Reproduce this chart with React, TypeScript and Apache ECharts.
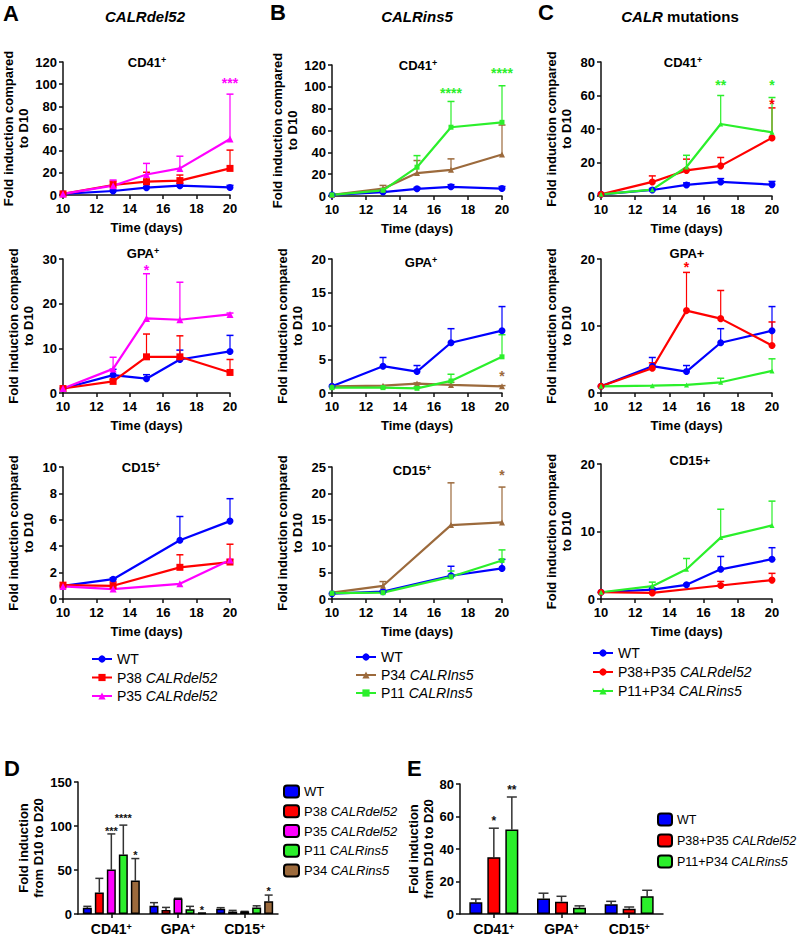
import React, { useEffect, useRef } from "react";
import * as echarts from "echarts";

const FONT = "'Liberation Sans', Arial, Helvetica, sans-serif";

const BLUE = "#0000ff";
const RED = "#ff0000";
const MAGENTA = "#ff00ff";
const GREEN = "#2bef2b";
const BROWN = "#9c6a3c";

// ---------- time points ----------
const days5 = [10, 13, 15, 17, 20];
const days4 = [10, 13, 17, 20];

// ---------- WT (shared control) ----------
const wtCd41 = [1, 3.6, 6.6, 8.4, 6.8];
const wtCd41Top = [1, 4.5, 7.8, 10.4, 8.7];
const wtGpa = [1, 4.0, 3.2, 7.5, 9.3];
const wtGpaTop = [1, 5.3, 4.1, 9.6, 12.9];

// ---------- Panel A : CALRdel52 ----------
const aCd41P38 = [1, 9, 12, 13, 24];
const aCd41P38Top = [1, 12.5, 20.5, 18, 40.5];
const aCd41P35 = [1, 8.4, 18.5, 24, 50.5];
const aCd41P35Top = [1, 13.5, 28.5, 35, 91];

const aGpaP38 = [1, 2.6, 8.1, 8.1, 4.6];
const aGpaP38Top = [1, 3.0, 13.2, 12.8, 7.5];
const aGpaP35 = [1, 5.4, 16.7, 16.4, 17.6];
const aGpaP35Top = [1, 8.0, 26.7, 24.8, 17.9];

const aCd15Wt = [1, 1.5, 4.45, 5.9];
const aCd15WtTop = [1, 1.6, 6.25, 7.6];
const aCd15P38 = [1.05, 1.0, 2.4, 2.8];
const aCd15P38Top = [1.05, 1.3, 3.35, 4.15];
const aCd15P35 = [0.95, 0.75, 1.15, 2.95];
const aCd15P35Top = [0.95, 0.75, 1.15, 3.0];

// ---------- Panel B : CALRins5 ----------
const bCd41P34 = [1, 6.7, 21, 24, 38];
const bCd41P34Top = [1, 9.7, 32.5, 34, 65];
const bCd41P11 = [1, 5.2, 26.4, 63, 67.5];
const bCd41P11Top = [1, 5.2, 37, 86.6, 101];

const bGpaP34 = [1, 1.1, 1.4, 1.2, 1.0];
const bGpaP34Top = [1, 1.1, 1.5, 1.6, 1.1];
const bGpaP11 = [0.8, 0.8, 0.7, 1.8, 5.4];
const bGpaP11Top = [0.8, 0.8, 0.9, 2.8, 8.7];

const bCd15Wt = [1, 1.4, 4.4, 5.8];
const bCd15WtTop = [1, 1.5, 6.2, 7.5];
const bCd15P34 = [1.2, 2.5, 14, 14.5];
const bCd15P34Top = [1.2, 3.3, 22, 21.2];
const bCd15P11 = [1.1, 1.2, 4.2, 7.3];
const bCd15P11Top = [1.1, 1.2, 5.3, 9.3];

// ---------- Panel C : CALR mutations ----------
const cCd41Del = [1, 8.4, 15.3, 18, 34.7];
const cCd41DelTop = [1, 12, 22, 23, 52.6];
const cCd41Ins = [1, 3.8, 17.3, 43, 38];
const cCd41InsTop = [1, 3.8, 24.3, 60, 58.8];

const cGpaDel = [1, 3.7, 12.3, 11.1, 7.1];
const cGpaDelTop = [1, 4.5, 18, 15.3, 10.6];
const cGpaIns = [1, 1.1, 1.2, 1.6, 3.3];
const cGpaInsTop = [1, 1.1, 1.2, 2.2, 5.1];

const cCd15Wt = [1, 1.4, 2.1, 4.4, 5.9];
const cCd15WtTop = [1, 1.6, 2.2, 6.3, 7.6];
const cCd15Del = [1, 0.9, 2.0, 2.8];
const cCd15DelTop = [1, 0.9, 2.6, 3.8];
const cCd15Ins = [1, 1.9, 4.4, 9.1, 10.9];
const cCd15InsTop = [1, 2.5, 6.0, 13.3, 14.5];

// ---------- significance marks [day, y] + labels ----------
const aCd41Stars = [[20, 101]];
const aCd41StarLabels = ["***"];
const aGpaStars = [[15, 27.5]];
const aGpaStarLabels = ["*"];
const bCd41Stars = [[17, 94], [20, 113]];
const bCd41StarLabels = ["****", "****"];
const bGpaStars = [[20, 2.6]];
const bGpaStarLabels = ["*"];
const bCd15Stars = [[20, 23.5]];
const bCd15StarLabels = ["*"];
const cCd41InsStars = [[17, 66], [20, 66]];
const cCd41InsStarLabels = ["**", "*"];
const cCd41DelStars = [[20, 55]];
const cCd41DelStarLabels = ["*"];
const cGpaStars = [[15, 18.8]];
const cGpaStarLabels = ["*"];

// ---------- Panel D / E : bar charts ----------
const barCats = ["CD41", "GPA", "CD15"];

const dWt = [7, 9.3, 5.9];
const dWtTop = [8.7, 12.9, 7.2];
const dP38 = [24.5, 4.6, 2.8];
const dP38Top = [40.5, 7.5, 4.1];
const dP35 = [50.5, 17.6, 2.9];
const dP35Top = [91, 17.9, 3.0];
const dP11 = [67.5, 5.4, 7.4];
const dP11Top = [101, 8.7, 9.3];
const dP34 = [38, 1.0, 14.5];
const dP34Top = [63, 1.2, 21.5];
// [categoryIndex, y, barIndex]
const dStars = [[0, 94, 2], [0, 109, 3], [0, 67, 4], [1, 4.5, 4], [2, 26, 4]];
const dStarLabels = ["***", "****", "*", "*", "*"];

const eWt = [7.2, 9.5, 6];
const eWtTop = [9.2, 12.8, 7.8];
const eDel = [35, 7.6, 3.2];
const eDelTop = [52.8, 10.9, 4.3];
const eIns = [52, 3.8, 11];
const eInsTop = [72, 5, 14.6];
const eStars = [[0, 57, 1], [0, 76.5, 2]];
const eStarLabels = ["*", "**"];

// ---------- layout ----------
const lineGrids = [
  { left: 63, top: 62, width: 167, height: 133 },
  { left: 332, top: 65, width: 170, height: 131 },
  { left: 601, top: 62, width: 171, height: 134 },
  { left: 63, top: 259, width: 167, height: 134 },
  { left: 332, top: 259, width: 170, height: 134 },
  { left: 601, top: 259, width: 171, height: 134 },
  { left: 63, top: 467, width: 167, height: 132 },
  { left: 332, top: 467, width: 170, height: 132 },
  { left: 601, top: 464, width: 171, height: 135 },
];
const yMax = [120, 120, 80, 30, 20, 20, 10, 25, 20];
const yStep = [20, 20, 20, 10, 5, 10, 2, 5, 10];

const D_GRID = { left: 78, top: 782, width: 200, height: 134 };
const E_GRID = { left: 460, top: 784, width: 203, height: 133 };

const D_BAR_W = 9;
const D_STRIDE = 12;
const E_BAR_W = 13;
const E_STRIDE = 18;

function lineSeries(gi: number, name: string, color: string, symbol: string, size: number, xs: number[], ys: number[]) {
  return {
    type: "line",
    name,
    xAxisIndex: gi,
    yAxisIndex: gi,
    data: xs.map((x, i) => [x, ys[i]]),
    symbol,
    symbolSize: size,
    showSymbol: true,
    lineStyle: { color, width: 2.2 },
    itemStyle: { color },
    z: 3,
  };
}

function errSeries(gi: number, color: string, xs: number[], ys: number[], tops: number[]) {
  return {
    type: "custom",
    xAxisIndex: gi,
    yAxisIndex: gi,
    silent: true,
    clip: false,
    z: 2,
    data: xs.map((x, i) => [x, ys[i], tops[i]]),
    renderItem: (_p: any, api: any) => {
      const x = api.value(0);
      const y = api.value(1);
      const t = api.value(2);
      if (!(t > y)) return { type: "group", children: [] };
      const p0 = api.coord([x, y]);
      const p1 = api.coord([x, t]);
      return {
        type: "group",
        children: [
          { type: "line", shape: { x1: p0[0], y1: p0[1], x2: p1[0], y2: p1[1] }, style: { stroke: color, lineWidth: 1.2 } },
          { type: "line", shape: { x1: p1[0] - 3.5, y1: p1[1], x2: p1[0] + 3.5, y2: p1[1] }, style: { stroke: color, lineWidth: 1.5 } },
        ],
      };
    },
  };
}

function starSeries(gi: number, color: string, pts: number[][], labels: string[], size = 14, n = 0, stride = 0) {
  return {
    type: "custom",
    xAxisIndex: gi,
    yAxisIndex: gi,
    silent: true,
    clip: false,
    z: 5,
    data: pts,
    renderItem: (p: any, api: any) => {
      const c = api.coord([api.value(0), api.value(1)]);
      const off = n ? (api.value(2) - (n - 1) / 2) * stride : 0;
      return {
        type: "text",
        x: c[0] + off,
        y: c[1],
        style: {
          text: labels[p.dataIndex],
          fill: color,
          font: `bold ${size}px ${FONT}`,
          align: "center",
          verticalAlign: "middle",
          textAlign: "center",
          textVerticalAlign: "middle",
        },
      };
    },
  };
}

function barSeries(gi: number, name: string, color: string, vals: number[], w: number, gap: string) {
  return {
    type: "bar",
    name,
    xAxisIndex: gi,
    yAxisIndex: gi,
    data: vals,
    barWidth: w,
    barGap: gap,
    itemStyle: { color, borderColor: "#000", borderWidth: 1.5 },
    z: 2,
  };
}

function barErrSeries(gi: number, vals: number[], tops: number[], bi: number, n: number, stride: number, cap: number) {
  return {
    type: "custom",
    xAxisIndex: gi,
    yAxisIndex: gi,
    silent: true,
    clip: false,
    z: 1,
    data: vals.map((v, i) => [i, v, tops[i]]),
    renderItem: (_p: any, api: any) => {
      const p0 = api.coord([api.value(0), api.value(1)]);
      const p1 = api.coord([api.value(0), api.value(2)]);
      const x = p0[0] + (bi - (n - 1) / 2) * stride;
      return {
        type: "group",
        children: [
          { type: "line", shape: { x1: x, y1: p0[1], x2: x, y2: p1[1] }, style: { stroke: "#333", lineWidth: 1.5 } },
          { type: "line", shape: { x1: x - cap, y1: p1[1], x2: x + cap, y2: p1[1] }, style: { stroke: "#333", lineWidth: 1.5 } },
        ],
      };
    },
  };
}

const axisLineStyle = { lineStyle: { color: "#111", width: 1.5 } };
const tickLabel = { color: "#000", fontFamily: FONT, fontWeight: "bold", fontSize: 13 };
const axisNameStyle = { color: "#000", fontFamily: FONT, fontWeight: "bold", fontSize: 13, lineHeight: 15 };

function text(x: number, y: number, t: string, font: string, rich?: any, align = "center", vAlign = "middle") {
  return {
    type: "text",
    x,
    y,
    silent: true,
    style: {
      text: t,
      font,
      fill: "#000",
      align,
      verticalAlign: vAlign,
      textAlign: align,
      textVerticalAlign: vAlign,
      rich,
    },
  };
}

const supRich = {
  t: { fontFamily: FONT, fontWeight: "bold", fontSize: 13, fill: "#000" },
  s: { fontFamily: FONT, fontWeight: "bold", fontSize: 9, fill: "#000", verticalAlign: "top" },
};

const legendText: Record<string, string> = {
  "A:WT": "{n|WT}",
  "A:P38": "{n|P38 }{i|CALRdel52}",
  "A:P35": "{n|P35 }{i|CALRdel52}",
  "B:WT": "{n|WT}",
  "B:P34": "{n|P34 }{i|CALRIns5}",
  "B:P11": "{n|P11 }{i|CALRIns5}",
  "C:WT": "{n|WT}",
  "C:DEL": "{n|P38+P35 }{i|CALRdel52}",
  "C:INS": "{n|P11+P34 }{i|CALRins5}",
  "D:WT": "{n|WT}",
  "D:P38": "{n|P38 }{i|CALRdel52}",
  "D:P35": "{n|P35 }{i|CALRdel52}",
  "D:P11": "{n|P11 }{i|CALRins5}",
  "D:P34": "{n|P34 }{i|CALRins5}",
  "E:WT": "{n|WT}",
  "E:DEL": "{n|P38+P35 }{i|CALRdel52}",
  "E:INS": "{n|P11+P34 }{i|CALRins5}",
};

function legendRich(size: number) {
  return {
    n: { fontFamily: FONT, fontSize: size, color: "#000" },
    i: { fontFamily: FONT, fontSize: size, fontStyle: "italic", color: "#000" },
  };
}

function makeLegend(data: string[], left: number, top: number, iw: number, ih: number, gap: number, size: number, lh: number) {
  return {
    data,
    left,
    top,
    orient: "vertical",
    itemWidth: iw,
    itemHeight: ih,
    itemGap: gap,
    selectedMode: false,
    padding: 0,
    formatter: (name: string) => legendText[name] || name,
    textStyle: { fontFamily: FONT, fontSize: size, lineHeight: lh, color: "#000", rich: legendRich(size) },
  };
}

function buildOption() {
  const grid: any[] = lineGrids.map((g) => ({ ...g, containLabel: false }));
  grid.push(D_GRID, E_GRID);

  const xAxis: any[] = lineGrids.map((_, i) => ({
    type: "value",
    gridIndex: i,
    min: 10,
    max: 20,
    interval: 2,
    name: "Time (days)",
    nameLocation: "middle",
    nameGap: 25,
    nameTextStyle: axisNameStyle,
    axisLine: { show: true, onZero: false, ...axisLineStyle },
    axisTick: { show: true, length: 4, lineStyle: { color: "#111", width: 1.5 } },
    axisLabel: { ...tickLabel, margin: 7 },
    splitLine: { show: false },
  }));
  const yAxis: any[] = lineGrids.map((_, i) => ({
    type: "value",
    gridIndex: i,
    min: 0,
    max: yMax[i],
    interval: yStep[i],
    name: "Fold induction compared\nto D10",
    nameLocation: "middle",
    nameGap: 27,
    nameTextStyle: axisNameStyle,
    axisLine: { show: true, onZero: false, ...axisLineStyle },
    axisTick: { show: true, length: 4, lineStyle: { color: "#111", width: 1.5 } },
    axisLabel: { ...tickLabel, margin: 6 },
    splitLine: { show: false },
  }));

  const catLabel = {
    color: "#000",
    fontFamily: FONT,
    fontWeight: "bold",
    fontSize: 14,
    margin: 8,
    interval: 0,
    formatter: (v: string) => `{t|${v}}{s|+}`,
    rich: {
      t: { fontFamily: FONT, fontWeight: "bold", fontSize: 14, color: "#000" },
      s: { fontFamily: FONT, fontWeight: "bold", fontSize: 9, color: "#000", verticalAlign: "top" },
    },
  };
  [9, 10].forEach((gi) => {
    xAxis.push({
      type: "category",
      gridIndex: gi,
      data: barCats,
      axisLine: { show: true, onZero: false, ...axisLineStyle },
      axisTick: { show: true, alignWithLabel: true, interval: 0, length: 4, lineStyle: { color: "#111", width: 1.5 } },
      axisLabel: catLabel,
    });
  });
  yAxis.push({
    type: "value",
    gridIndex: 9,
    min: 0,
    max: 150,
    interval: 50,
    name: "Fold induction\nfrom D10 to D20",
    nameLocation: "middle",
    nameGap: 29,
    nameTextStyle: axisNameStyle,
    axisLine: { show: true, ...axisLineStyle },
    axisTick: { show: true, length: 4, lineStyle: { color: "#111", width: 1.5 } },
    axisLabel: { ...tickLabel, margin: 6 },
    splitLine: { show: false },
  });
  yAxis.push({
    type: "value",
    gridIndex: 10,
    min: 0,
    max: 80,
    interval: 20,
    name: "Fold induction\nfrom D10 to D20",
    nameLocation: "middle",
    nameGap: 23,
    nameTextStyle: axisNameStyle,
    axisLine: { show: true, ...axisLineStyle },
    axisTick: { show: true, length: 4, lineStyle: { color: "#111", width: 1.5 } },
    axisLabel: { ...tickLabel, margin: 6 },
    splitLine: { show: false },
  });

  const series: any[] = [];
  const addLine = (gi: number, name: string, color: string, symbol: string, size: number, xs: number[], ys: number[], tops: number[]) => {
    series.push(errSeries(gi, color, xs, ys, tops));
    series.push(lineSeries(gi, name, color, symbol, size, xs, ys));
  };

  // Panel A
  addLine(0, "A:WT", BLUE, "circle", 7, days5, wtCd41, wtCd41Top);
  addLine(0, "A:P38", RED, "rect", 7, days5, aCd41P38, aCd41P38Top);
  addLine(0, "A:P35", MAGENTA, "triangle", 7, days5, aCd41P35, aCd41P35Top);
  series.push(starSeries(0, MAGENTA, aCd41Stars, aCd41StarLabels));
  addLine(3, "A:WT", BLUE, "circle", 7, days5, wtGpa, wtGpaTop);
  addLine(3, "A:P38", RED, "rect", 7, days5, aGpaP38, aGpaP38Top);
  addLine(3, "A:P35", MAGENTA, "triangle", 7, days5, aGpaP35, aGpaP35Top);
  series.push(starSeries(3, MAGENTA, aGpaStars, aGpaStarLabels));
  addLine(6, "A:WT", BLUE, "circle", 7, days4, aCd15Wt, aCd15WtTop);
  addLine(6, "A:P38", RED, "rect", 7, days4, aCd15P38, aCd15P38Top);
  addLine(6, "A:P35", MAGENTA, "triangle", 7, days4, aCd15P35, aCd15P35Top);

  // Panel B
  addLine(1, "B:WT", BLUE, "circle", 7, days5, wtCd41, wtCd41Top);
  addLine(1, "B:P34", BROWN, "triangle", 6, days5, bCd41P34, bCd41P34Top);
  addLine(1, "B:P11", GREEN, "rect", 5, days5, bCd41P11, bCd41P11Top);
  series.push(starSeries(1, GREEN, bCd41Stars, bCd41StarLabels));
  addLine(4, "B:WT", BLUE, "circle", 7, days5, wtGpa, wtGpaTop);
  addLine(4, "B:P34", BROWN, "triangle", 6, days5, bGpaP34, bGpaP34Top);
  addLine(4, "B:P11", GREEN, "rect", 5, days5, bGpaP11, bGpaP11Top);
  series.push(starSeries(4, BROWN, bGpaStars, bGpaStarLabels));
  addLine(7, "B:WT", BLUE, "circle", 7, days4, bCd15Wt, bCd15WtTop);
  addLine(7, "B:P34", BROWN, "triangle", 6, days4, bCd15P34, bCd15P34Top);
  addLine(7, "B:P11", GREEN, "rect", 5, days4, bCd15P11, bCd15P11Top);
  series.push(starSeries(7, BROWN, bCd15Stars, bCd15StarLabels));

  // Panel C
  addLine(2, "C:WT", BLUE, "circle", 7, days5, wtCd41, wtCd41Top);
  addLine(2, "C:DEL", RED, "circle", 7, days5, cCd41Del, cCd41DelTop);
  addLine(2, "C:INS", GREEN, "triangle", 5, days5, cCd41Ins, cCd41InsTop);
  series.push(starSeries(2, GREEN, cCd41InsStars, cCd41InsStarLabels));
  series.push(starSeries(2, RED, cCd41DelStars, cCd41DelStarLabels));
  addLine(5, "C:WT", BLUE, "circle", 7, days5, wtGpa, wtGpaTop);
  addLine(5, "C:DEL", RED, "circle", 7, days5, cGpaDel, cGpaDelTop);
  addLine(5, "C:INS", GREEN, "triangle", 5, days5, cGpaIns, cGpaInsTop);
  series.push(starSeries(5, RED, cGpaStars, cGpaStarLabels));
  addLine(8, "C:WT", BLUE, "circle", 7, days5, cCd15Wt, cCd15WtTop);
  addLine(8, "C:DEL", RED, "circle", 7, days4, cCd15Del, cCd15DelTop);
  addLine(8, "C:INS", GREEN, "triangle", 5, days5, cCd15Ins, cCd15InsTop);

  // Panel D
  const dSets: [string, string, number[], number[]][] = [
    ["D:WT", BLUE, dWt, dWtTop],
    ["D:P38", RED, dP38, dP38Top],
    ["D:P35", MAGENTA, dP35, dP35Top],
    ["D:P11", GREEN, dP11, dP11Top],
    ["D:P34", BROWN, dP34, dP34Top],
  ];
  const dGap = `${((D_STRIDE - D_BAR_W) / D_BAR_W) * 100}%`;
  dSets.forEach(([n, c, v, t], bi) => {
    series.push(barErrSeries(9, v, t, bi, dSets.length, D_STRIDE, 4));
    series.push(barSeries(9, n, c, v, D_BAR_W, dGap));
  });
  series.push(starSeries(9, "#111", dStars, dStarLabels, 11, dSets.length, D_STRIDE));

  // Panel E
  const eSets: [string, string, number[], number[]][] = [
    ["E:WT", BLUE, eWt, eWtTop],
    ["E:DEL", RED, eDel, eDelTop],
    ["E:INS", GREEN, eIns, eInsTop],
  ];
  const eGap = `${((E_STRIDE - E_BAR_W) / E_BAR_W) * 100}%`;
  eSets.forEach(([n, c, v, t], bi) => {
    series.push(barErrSeries(10, v, t, bi, eSets.length, E_STRIDE, 5));
    series.push(barSeries(10, n, c, v, E_BAR_W, eGap));
  });
  series.push(starSeries(10, "#111", eStars, eStarLabels, 12, eSets.length, E_STRIDE));

  const legend = [
    makeLegend(["A:WT", "A:P38", "A:P35"], 91, 651, 20, 9, 2.5, 14, 16),
    makeLegend(["B:WT", "B:P34", "B:P11"], 355, 649, 20, 9, 2, 14, 16),
    makeLegend(["C:WT", "C:DEL", "C:INS"], 592, 645, 20, 9, 3, 14, 16),
    makeLegend(["D:WT", "D:P38", "D:P35", "D:P11", "D:P34"], 283, 784, 15, 12, 4.75, 13, 15),
    makeLegend(["E:WT", "E:DEL", "E:INS"], 657, 812, 14, 12, 6, 12.5, 15),
  ];

  const bold = (s: number) => `bold ${s}px ${FONT}`;
  const graphic = [
    text(3, 2, "A", bold(22), undefined, "left", "top"),
    text(270, 1, "B", bold(22), undefined, "left", "top"),
    text(538, 1, "C", bold(22), undefined, "left", "top"),
    text(4, 757, "D", bold(22), undefined, "left", "top"),
    text(407, 757, "E", bold(22), undefined, "left", "top"),
    text(145, 16, "CALRdel52", `italic bold 15px ${FONT}`),
    text(417, 16, "CALRins5", `italic bold 15px ${FONT}`),
    text(680, 16, "{i|CALR}{b| mutations}", bold(15), {
      i: { fontFamily: FONT, fontWeight: "bold", fontStyle: "italic", fontSize: 15, fill: "#000" },
      b: { fontFamily: FONT, fontWeight: "bold", fontSize: 15, fill: "#000" },
    }),
    text(147, 62, "{t|CD41}{s|+}", bold(13), supRich),
    text(418, 65, "{t|CD41}{s|+}", bold(13), supRich),
    text(683, 62, "{t|CD41}{s|+}", bold(13), supRich),
    text(143, 253, "{t|GPA}{s|+}", bold(13), supRich),
    text(421, 262, "{t|GPA}{s|+}", bold(13), supRich),
    text(687, 253, "GPA+", bold(13)),
    text(141, 467, "{t|CD15}{s|+}", bold(13), supRich),
    text(412, 470, "{t|CD15}{s|+}", bold(13), supRich),
    text(690, 460, "CD15+", bold(13)),
  ];

  return {
    animation: false,
    backgroundColor: "#ffffff",
    textStyle: { fontFamily: FONT },
    grid,
    xAxis,
    yAxis,
    series,
    legend,
    graphic,
  };
}

export default function App() {
  const ref = useRef<HTMLDivElement>(null);
  useEffect(() => {
    if (!ref.current) return;
    const chart = echarts.init(ref.current, undefined, { renderer: "svg" });
    chart.setOption(buildOption() as any);
    return () => chart.dispose();
  }, []);
  return (
    <div
      ref={ref}
      style={{ position: "absolute", left: 0, top: 0, width: 800, height: 936, background: "#fff" }}
    />
  );
}
